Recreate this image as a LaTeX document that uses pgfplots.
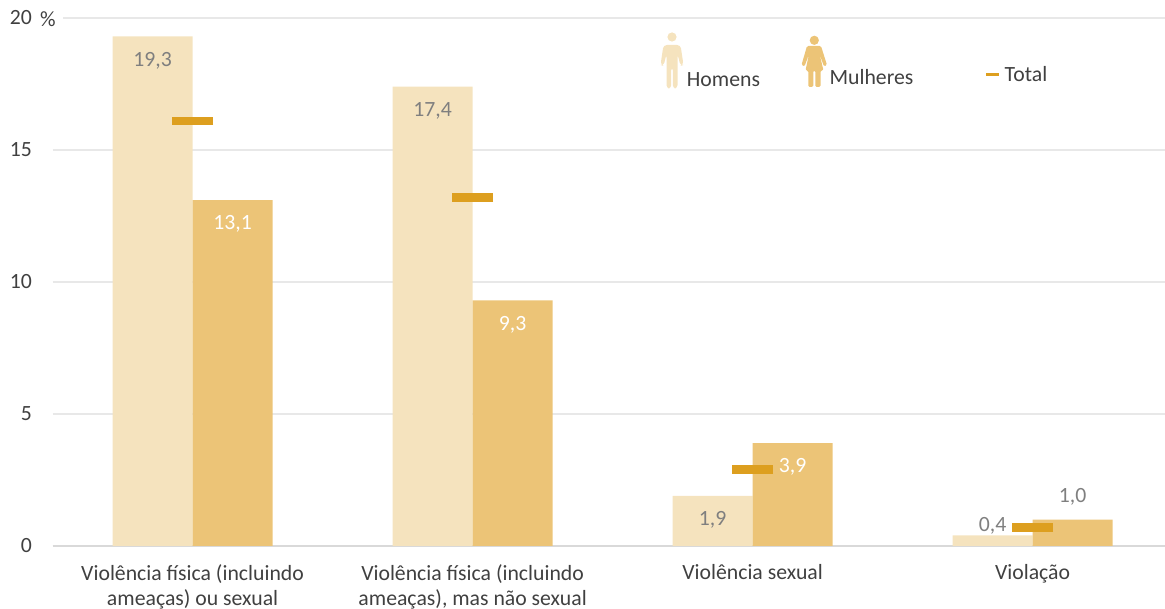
\documentclass[border=0pt]{standalone}
\usepackage{fontspec}
\setmainfont{Carlito}
\usepackage{pgfplots}
\pgfplotsset{compat=1.18}
\definecolor{homens}{HTML}{F5E3BE}
\definecolor{mulheres}{HTML}{ECC477}
\definecolor{total}{HTML}{DD9F1F}
\definecolor{grelha}{HTML}{E8E8E8}
\definecolor{texto}{HTML}{404040}
\definecolor{valor}{HTML}{7F7F7F}
\newcommand{\letra}{\fontsize{16.3}{18.4}\selectfont}
\begin{document}
\begin{tikzpicture}[x=0.75pt,y=-0.75pt]
\useasboundingbox (0,0) rectangle (1165,609);
\begin{axis}[
  at={(39.45pt,-409.5pt)}, anchor=south west,
  scale only axis, width=834pt, height=396pt,
  xmin=-0.5, xmax=3.4714, ymin=0, ymax=20,
  clip=false,
  axis lines*=left,
  x axis line style={draw=black!15, line width=0.9pt, -},
  y axis line style={draw=none},
  major tick length=0pt,
  ymajorgrids, grid style={grelha, line width=0.9pt},
  ytick={0,5,10,15,20},
  xtick={0,1,2,3},
  xticklabels={{Violência física (incluindo\\ameaças) ou sexual},{Violência física (incluindo\\ameaças), mas não sexual},{Violência sexual},{Violação}},
  xticklabel style={align=center, text=texto, font=\letra, anchor=north, yshift=-10.6pt},
  yticklabel style={text=texto, font=\letra, anchor=east, xshift=-12pt},
  /pgf/number format/assume math mode=true,
  ybar, bar width=60pt,
  nodes near coords,
  nodes near coords style={
    /pgf/number format/.cd, fixed, fixed zerofill, precision=1, use comma, assume math mode=true, /tikz/.cd,
    font=\letra, anchor=center},
]
\addplot[draw=none, fill=homens, bar shift=-30pt,
  nodes near coords style={text=valor, yshift=-18pt},
  coordinate style/.condition={y<1}{yshift=25.5pt}]
  coordinates {(0,19.3) (1,17.4) (2,1.9) (3,0.4)};
\addplot[draw=none, fill=mulheres, bar shift=30pt,
  nodes near coords style={yshift=-18pt},
  coordinate style/.condition={y>=1.5}{text=white},
  coordinate style/.condition={y<1.5}{yshift=35.25pt, text=valor}]
  coordinates {(0,13.1) (1,9.3) (2,3.9) (3,1.0)};
\addplot[ybar=0pt, only marks, draw=none, mark=-, nodes near coords={},
  mark size=15.3pt, mark options={draw=total, line width=6.6pt}, bar shift=0pt]
  coordinates {(0,16.1) (1,13.2) (2,2.9) (3,0.7)};
\end{axis}
% unidade e inicio da grelha nos 20
\fill[white] (37,14) rectangle (63,22);
\node[text=texto, font=\letra, anchor=center] at (48,19) {\%};
% legenda
\fill[homens] (672,37) circle (4.6);
\fill[homens, rounded corners=2.5] (663.5,45) -- (680.5,45) -- (683.5,65) -- (680.5,66) -- (677.5,54) -- (677.5,88.5) -- (672.8,88.5) -- (672.8,67) -- (671.2,67) -- (671.2,88.5) -- (666.5,88.5) -- (666.5,54) -- (663.5,66) -- (660.5,65) -- cycle;
\node[text=texto, font=\letra] at (723.5,79.5) {Homens};
\fill[mulheres] (814.3,40.3) circle (4.6);
\fill[mulheres, rounded corners=1] (807,46) -- (821,46) -- (827,65) -- (824,66.5) -- (819.5,54) -- (823.5,70.5) -- (820.5,70.5) -- (820.5,87) -- (815.3,87) -- (815.3,70.5) -- (813.3,70.5) -- (813.3,87) -- (808.3,87) -- (808.3,70.5) -- (805.5,70.5) -- (809,54) -- (804.5,66.5) -- (801.5,65) -- cycle;
\node[text=texto, font=\letra] at (871.5,77.5) {Mulheres};
\fill[total] (986,73) rectangle (999,76);
\node[text=texto, font=\letra] at (1026,74.5) {Total};
\end{tikzpicture}
\end{document}
